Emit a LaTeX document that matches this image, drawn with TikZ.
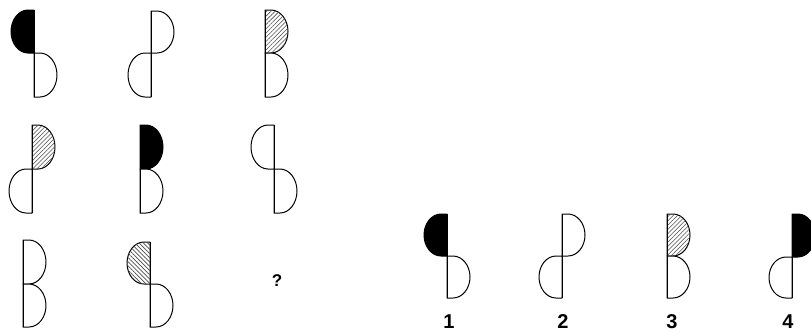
\documentclass[tikz,border=0pt]{standalone}
\usepackage{fontspec}
\setmainfont{Liberation Sans}
\usetikzlibrary{patterns.meta}
\tikzset{
  outline/.style={draw=black, line width=1pt, line join=round},
  blackfill/.style={outline, fill=black},
  whitefill/.style={outline, fill=white},
  hatchne/.style={outline, fill=white, postaction={pattern={Lines[angle=45,distance=3pt,line width=0.6pt]}, pattern color=black!70}},
  hatchnw/.style={outline, fill=white, postaction={pattern={Lines[angle=-45,distance=3pt,line width=0.6pt]}, pattern color=black!70}},
  label/.style={font=\bfseries\fontsize{20}{20}\selectfont, inner sep=0pt, anchor=base},
  qmark/.style={font=\bfseries\fontsize{17}{17}\selectfont, inner sep=0pt, anchor=base}
}
% \halfD{style}{x}{ytop}{ybot}{side: 1 right, -1 left}
\newcommand{\halfD}[5]{%
  \pgfmathsetmacro{\hm}{(#3+#4)/2}%
  \pgfmathsetmacro{\hh}{(#4-#3)/2}%
  \pgfmathsetmacro{\xf}{#2+#5*6}%
  \pgfmathsetmacro{\xc}{#2+#5*(6+0.55*17)}%
  \pgfmathsetmacro{\xw}{#2+#5*23}%
  \pgfmathsetmacro{\ya}{\hm-0.55*\hh}%
  \pgfmathsetmacro{\yb}{\hm+0.55*\hh}%
  \path[#1] (#2,#3) -- (\xf,#3) .. controls (\xc,#3) and (\xw,\ya) .. (\xw,\hm)
     .. controls (\xw,\yb) and (\xc,#4) .. (\xf,#4) -- (#2,#4) -- cycle;%
}
% \twohalves{x}{ytop}{ymid}{ybot}{topstyle}{topside}{botstyle}{botside}
\newcommand{\twohalves}[8]{%
  \halfD{#5}{#1}{#2}{#3}{#6}%
  \halfD{#7}{#1}{#3}{#4}{#8}%
  \draw[outline] (#1,#2) -- (#1,#4);%
}
\begin{document}
\begin{tikzpicture}[x=1pt,y=-1pt]
\useasboundingbox (0,0) rectangle (811,333);
\clip (0,0) rectangle (811,333);
\fill[white] (0,0) rectangle (811,333);
% row 1
\twohalves{34}{10}{53}{97}{blackfill}{-1}{whitefill}{1}
\twohalves{151}{11}{53}{97}{whitefill}{1}{whitefill}{-1}
\twohalves{265}{10}{53}{97}{hatchne}{1}{whitefill}{1}
% row 2
\twohalves{32}{125}{169}{213}{hatchne}{1}{whitefill}{-1}
\twohalves{140}{125}{169}{213}{blackfill}{1}{whitefill}{1}
\twohalves{274}{125}{169}{213}{whitefill}{-1}{whitefill}{1}
% row 3
\twohalves{23}{240}{284}{327}{whitefill}{1}{whitefill}{1}
\twohalves{150}{242}{284}{327}{hatchnw}{-1}{whitefill}{1}
\node[qmark] (q) at (277,286) {?};
% options
\twohalves{447}{214}{256}{298}{blackfill}{-1}{whitefill}{1}
\twohalves{562}{214}{256}{298}{whitefill}{1}{whitefill}{-1}
\twohalves{667}{214}{256}{298}{hatchne}{1}{whitefill}{1}
\twohalves{792}{214}{257}{298}{blackfill}{1}{whitefill}{-1}
\node[label] (l1) at (449,328) {1};
\node[label] (l2) at (563,328) {2};
\node[label] (l3) at (672,328) {3};
\node[label] (l4) at (788,328) {4};
\end{tikzpicture}
\end{document}
